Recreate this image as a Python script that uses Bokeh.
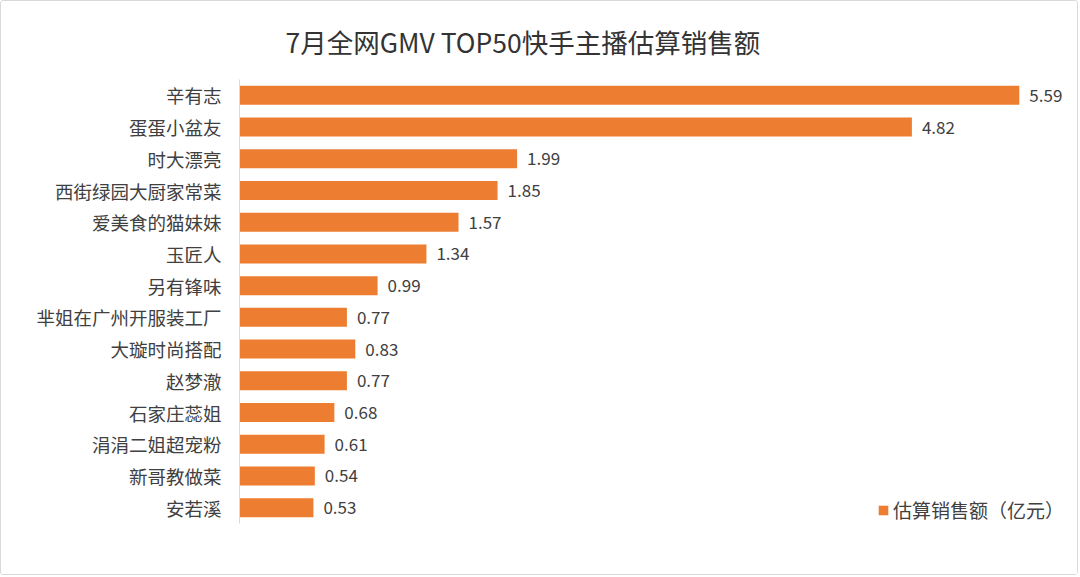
from bokeh.plotting import figure
from bokeh.models import ColumnDataSource, FactorRange, Range1d, LabelSet, Legend, LegendItem
from bokeh.core.properties import value
from bokeh.embed import file_html
from bokeh.resources import INLINE

names = ["辛有志", "蛋蛋小盆友", "时大漂亮", "西街绿园大厨家常菜", "爱美食的猫妹妹", "玉匠人", "另有锋味",
         "芈姐在广州开服装工厂", "大璇时尚搭配", "赵梦澈", "石家庄蕊姐", "涓涓二姐超宠粉", "新哥教做菜", "安若溪"]
values = [5.59, 4.82, 1.99, 1.85, 1.57, 1.34, 0.99, 0.77, 0.83, 0.77, 0.68, 0.61, 0.54, 0.53]
title_text = "7月全网GMV TOP50快手主播估算销售额"
series_name = "估算销售额（亿元）"

FONT = "Noto Sans CJK SC"
ORANGE = "#ED7D31"
TXT = "#404040"

src = ColumnDataSource(dict(name=names, val=values, lab=[f"{v:.2f}" for v in values]))

W, H = 1078, 575
left, right, top, bottom = 238, 0, 78, 53
frame_w = W - left - right
xmax = frame_w / 139.5

p = figure(width=W, height=H, output_backend="svg", toolbar_location=None,
           y_range=FactorRange(factors=names[::-1], range_padding=0),
           x_range=Range1d(0, xmax),
           min_border_left=left, min_border_right=right, min_border_top=top, min_border_bottom=bottom)
p.outline_line_color = None
p.background_fill_color = "white"
p.border_fill_color = "white"
p.xgrid.visible = False
p.ygrid.visible = False
p.xaxis.visible = False
p.styles = {"border": "1px solid #d9d9d9", "border-radius": "3px"}

p.title.text = title_text
p.title.align = "left"
p.title.offset = 46
p.title.vertical_align = "middle"
p.title.text_font = FONT
p.title.text_font_size = "26.5px"
p.title.text_font_style = "normal"
p.title.text_color = "#333333"
p.title.standoff = 36

ya = p.yaxis[0]
ya.axis_line_color = "#d9d9d9"
ya.axis_line_width = 1
ya.major_tick_line_color = None
ya.minor_tick_line_color = None
ya.major_tick_out = 0
ya.major_tick_in = 0
ya.major_label_standoff = 18
ya.major_label_text_font = FONT
ya.major_label_text_font_size = "18.5px"
ya.major_label_text_color = TXT

r = p.hbar(y="name", right="val", left=0, height=0.6, source=src, fill_color=ORANGE, line_color=None)

labels = LabelSet(x="val", y="name", text="lab", source=src, x_offset=10,
                  text_baseline="middle", text_align="left",
                  text_font=value(FONT), text_font_size="17px", text_color=TXT)
p.add_layout(labels)

legend = Legend(items=[LegendItem(label=series_name, renderers=[r])], location=(638, 0),
                padding=0, margin=0, spacing=0, glyph_width=12, glyph_height=12, label_height=12,
                label_standoff=4, background_fill_alpha=0, border_line_color=None,
                label_text_font=FONT, label_text_font_size="19px", label_text_color=TXT)
p.add_layout(legend)

open("out.html", "w").write(file_html(p, INLINE))
